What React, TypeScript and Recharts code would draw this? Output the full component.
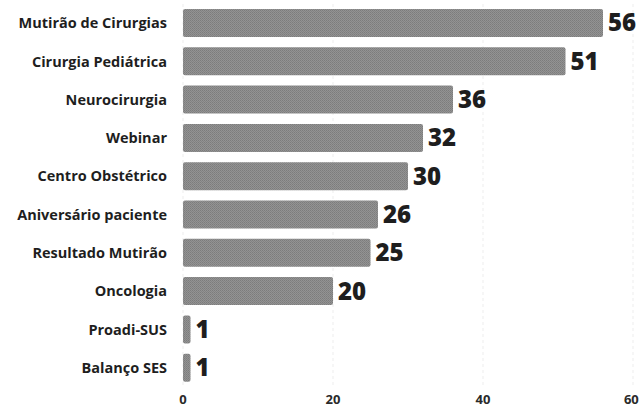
import React from "react";
import { BarChart, Bar, XAxis, YAxis, CartesianGrid, LabelList } from "recharts";

const categories = [
  "Mutirão de Cirurgias",
  "Cirurgia Pediátrica",
  "Neurocirurgia",
  "Webinar",
  "Centro Obstétrico",
  "Aniversário paciente",
  "Resultado Mutirão",
  "Oncologia",
  "Proadi-SUS",
  "Balanço SES",
];
const counts = [56, 51, 36, 32, 30, 26, 25, 20, 1, 1];
const xTicks = [0, 20, 40, 60];

const data = categories.map((name, i) => ({ name, value: counts[i] }));

const FONT = "'Open Sans', 'Noto Sans', sans-serif";

export default function App() {
  return (
    <div style={{ position: "absolute", left: 0, top: 0, width: 639, height: 410, background: "#fff" }}>
      <BarChart
        width={639}
        height={410}
        data={data}
        layout="vertical"
        margin={{ top: 4, right: 6, bottom: 0, left: 0 }}
        barCategoryGap="13%"
      >
        <defs>
          <pattern id="grain" width="2" height="2" patternUnits="userSpaceOnUse">
            <rect width="2" height="2" fill="#939393" />
            <rect width="1" height="1" fill="#7c7c7c" />
            <rect x="1" y="1" width="1" height="1" fill="#838383" />
          </pattern>
        </defs>
        <CartesianGrid horizontal={false} strokeDasharray="3 3" stroke="#ededed" />
        <XAxis
          type="number"
          domain={[0, 60]}
          ticks={xTicks}
          axisLine={false}
          tickLine={false}
          height={23}
          tick={{ fontSize: 13, fontWeight: 700, fill: "#2a2a2a", fontFamily: FONT }}
        />
        <YAxis
          type="category"
          dataKey="name"
          width={183}
          axisLine={false}
          tickLine={false}
          tickMargin={10}
          tick={{ fontSize: 14.5, fontWeight: 700, fill: "#1e1e1e", fontFamily: FONT }}
        />
        <Bar dataKey="value" fill="url(#grain)" radius={2} isAnimationActive={false}>
          <LabelList
            dataKey="value"
            position="right"
            offset={5}
            style={{ fontSize: 24, fontWeight: 800, fill: "#1e1e1e", fontFamily: FONT }}
          />
        </Bar>
      </BarChart>
    </div>
  );
}
